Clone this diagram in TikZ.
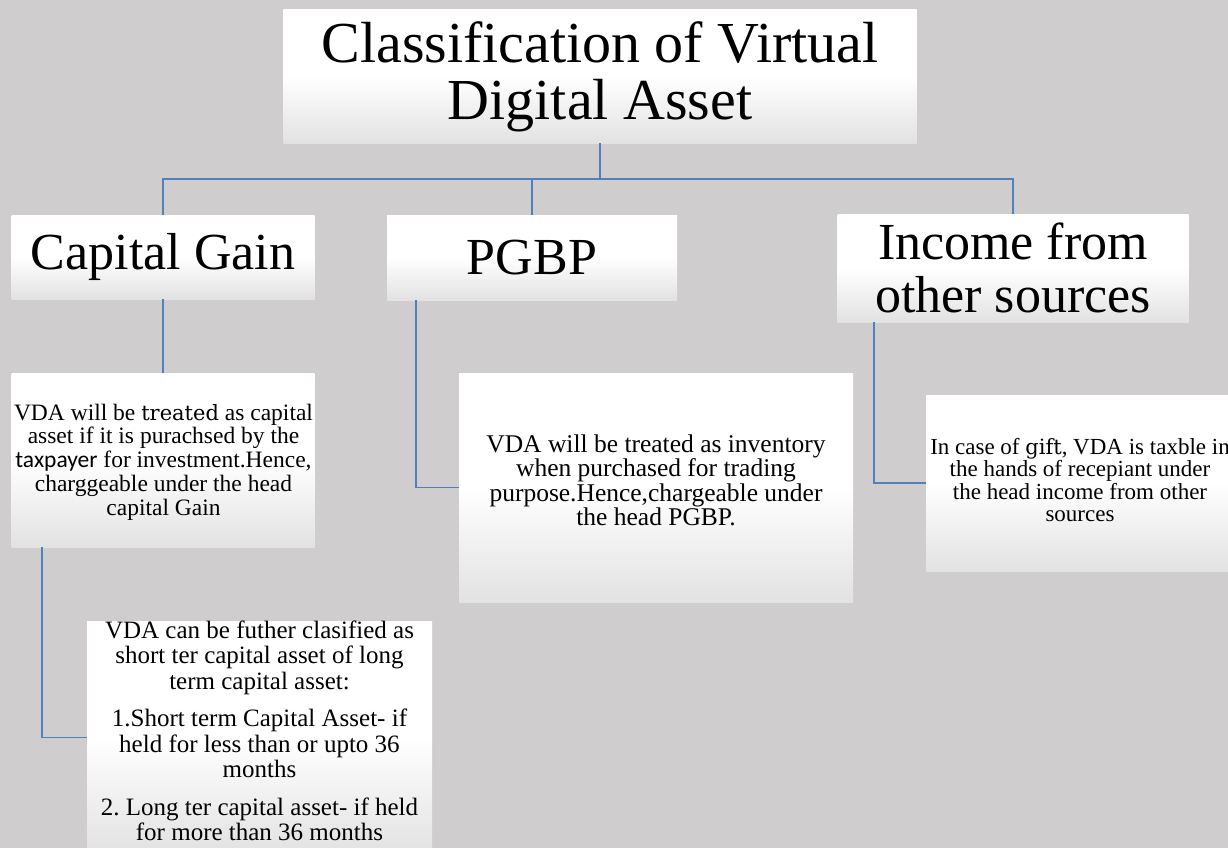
\documentclass[tikz,border=0pt]{standalone}
\usepackage{fontspec}
\setmainfont{Liberation Serif}
\newfontfamily\uisans{Carlito}
\newfontfamily\altserif{DejaVu Serif}
\usetikzlibrary{calc}
\frenchspacing

\definecolor{canvas}{RGB}{207,205,206}
\definecolor{wireblue}{RGB}{79,129,189}
\definecolor{cardlow}{RGB}{226,226,226}

\tikzset{
  card/.style={rectangle, inner sep=0pt, top color=white, bottom color=cardlow,
               middle color=white, align=center, text=black},
  words/.style={inner sep=0pt, align=center, text=black},
  toptext/.style={font=\fontsize{58}{57}\selectfont},
  headtext/.style={font=\fontsize{52}{53}\selectfont},
  wire/.style={draw=wireblue, line width=1.5pt}
}

\begin{document}
\begin{tikzpicture}[x=1pt,y=-1pt]
  \useasboundingbox (0,0) rectangle (1228,848);
  \fill[canvas] (0,0) rectangle (1228,848);
  \coordinate (bus) at (0,179);

  % root
  \node[card, toptext, minimum width=633, minimum height=133] (title) at (600,76.5)
    {Classification of Virtual\\Digital Asset};

  % heads of income
  \node[card, headtext, minimum width=303, minimum height=84] (cg) at (163,257)
    {Capital Gain};
  \node[card, headtext, minimum width=290, minimum height=85] (pg) at (532,257.5)
    {PGBP};
  \node[card, headtext, minimum width=351, minimum height=108] (inc) at (1013,268)
    {Income from\\other sources};

  % explanations: boxes
  \node[card, minimum width=303, minimum height=174] (cgd) at (163,460) {};
  \node[card, minimum width=394, minimum height=229] (pgd) at (656,487.5) {};
  \node[card, minimum width=308, minimum height=176] (incd) at (1080,483) {};
  \node[card, minimum width=345, minimum height=233] (cgs) at (259.5,737.5) {};

  % explanations: texts
  \node[words, font=\fontsize{23.5}{23.7}\selectfont] (cgdtext) at (163.5,462)
    {VDA will be {\altserif\fontsize{21}{23.7}\selectfont treated} as capital\\asset if it is purachsed by the\\
     {\uisans taxpayer} for investment.Hence,\\charggeable under the head\\capital Gain};
  \node[words, font=\fontsize{25.5}{24.5}\selectfont] (pgdtext) at (656,480.5)
    {VDA will be treated as inventory\\when purchased for trading\\
     purpose.Hence,chargeable under\\the head PGBP.};
  \node[words, font=\fontsize{23}{22.5}\selectfont] (incdtext) at (1080,480)
    {In case of {\altserif\fontsize{21}{22.5}\selectfont gift}, VDA is taxble in\\the hands of recepiant under\\
     the head income from other\\sources};
  \node[words, font=\fontsize{25}{25.5}\selectfont] (cgstext) at (259.5,731)
    {VDA can be futher clasified as\\short ter capital asset of long\\term capital asset:\\[12pt]
     1.Short term Capital Asset- if\\held for less than or upto 36\\months\\[12pt]
     2. Long ter capital asset- if held\\for more than 36 months};

  % connectors
  \draw[wire] (title.south) -- (title.south |- bus);
  \draw[wire] (cg.north) -- (cg.north |- bus) -- (inc.north |- bus) -- (inc.north);
  \draw[wire] (pg.north) -- (pg.north |- bus);
  \draw[wire] (cg.south) -- (cgd.north);
  \draw[wire] ($(cgd.south west)+(30.5,0)$) |- (cgs.west);
  \draw[wire] ($(pg.south west)+(29,0)$) |- (pgd.west);
  \draw[wire] ($(inc.south west)+(36.5,0)$) |- (incd.west);
\end{tikzpicture}
\end{document}
